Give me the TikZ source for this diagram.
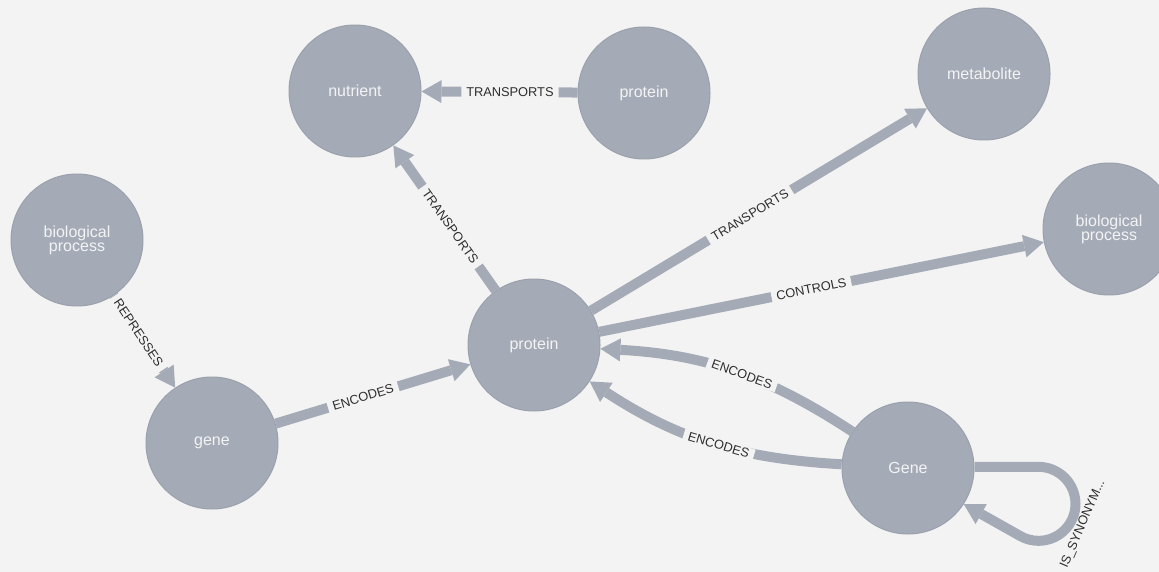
\documentclass[tikz,border=0pt]{standalone}
\usepackage{fontspec}
\setmainfont{Liberation Sans}
\usetikzlibrary{arrows.meta}
\definecolor{bgcol}{HTML}{F3F3F3}
\definecolor{nodefill}{HTML}{A5ABB6}
\definecolor{nodeline}{HTML}{9AA1AC}
\definecolor{edgecol}{HTML}{A5ABB6}
\definecolor{labcol}{HTML}{2E2E2E}
\definecolor{nodetext}{HTML}{F2F3F5}
\begin{document}
\begin{tikzpicture}[x=1pt,y=1pt,
  ent/.style={circle, minimum size=132pt, inner sep=0pt, fill=nodefill, draw=nodeline,
    line width=1pt, text=nodetext, align=center,
    font=\fontsize{16}{17}\selectfont},
  rel/.style={draw=edgecol, line width=10pt,
    -{Triangle[width=23pt,length=20pt,line width=0pt]}},
  rlabel/.style={fill=bgcol, text=labcol, sloped, inner xsep=5pt, inner ysep=1.5pt,
    text height=9pt, text depth=0pt, font=\fontsize{12.8}{13}\selectfont}]
\useasboundingbox (0,0) rectangle (1159,-572);
\fill[bgcol] (0,0) rectangle (1159,-572);
\clip (0,0) rectangle (1159,-572);

% entities
\node[ent] (nutrient) at (355,-91) {nutrient};
\node[ent] (proteinA) at (644,-93) {protein};
\node[ent] (metabolite) at (984,-74) {metabolite};
\node[ent] (procL) at (77,-240) {biological\\[-3pt]process};
\node[ent] (procR) at (1109,-229) {biological\\[-3pt]process};
\node[ent] (protein) at (534,-345) {protein};
\node[ent] (geneL) at (212,-443) {gene};
\node[ent] (Gene) at (908,-468) {Gene};

% relationships
\draw[rel] (proteinA) -- node[rlabel,pos=0.433] {TRANSPORTS} (nutrient);
\draw[rel] (protein) -- node[rlabel,pos=0.441] {TRANSPORTS} (nutrient);
\draw[rel] (protein) -- node[rlabel,pos=0.473] {TRANSPORTS} (metabolite);
\draw[rel] (protein) -- node[rlabel,pos=0.477] {CONTROLS} (procR);
\draw[rel] (geneL) -- node[rlabel,pos=0.449] {ENCODES} (protein);
\draw[rel] (procL) -- node[rlabel,pos=0.406] {REPRESSES} (geneL);
\draw[rel] (Gene) to[bend right=15] node[rlabel,pos=0.46] {ENCODES} (protein);
\draw[rel] (Gene) to[bend left=15] node[rlabel,pos=0.46] {ENCODES} (protein);

% self loop
\draw[rel] (Gene.1) -- ++(64,0) arc[start angle=90, end angle=-121, radius=37] -- (Gene.-33);
\node[text=labcol, rotate=66.6, font=\fontsize{12.8}{13}\selectfont, inner sep=0pt]
  (synlabel) at (1083,-524) {IS\_SYNONYM...};
\end{tikzpicture}
\end{document}
